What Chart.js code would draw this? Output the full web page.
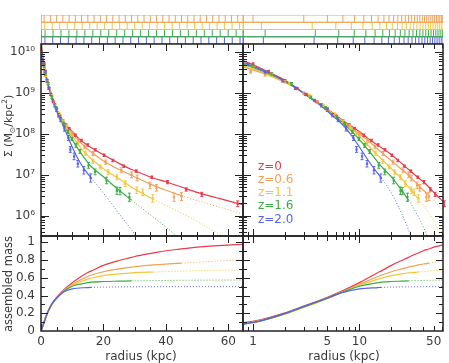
<!DOCTYPE html>
<html><head><meta charset="utf-8">
<script src="https://cdn.jsdelivr.net/npm/chart.js@4"></script>
<style>
html,body{margin:0;padding:0;background:#fff;width:449px;height:363px;overflow:hidden;position:relative;}
canvas{position:absolute;left:0;top:0;}
.t{position:absolute;font-family:'DejaVu Sans',sans-serif;font-size:12px;color:#3a3a3a;white-space:nowrap;line-height:14px;}
.rot{transform:translate(-50%,-50%) rotate(-90deg);}
.ctr{transform:translate(-50%,-50%);}
</style></head><body>
<canvas id="sTL" width="449" height="363"></canvas>
<canvas id="sTR" width="449" height="363"></canvas>
<canvas id="pTL" width="449" height="363"></canvas>
<canvas id="pTR" width="449" height="363"></canvas>
<canvas id="pBL" width="449" height="363"></canvas>
<canvas id="pBR" width="449" height="363"></canvas>
<div class="t rot" style="left:9px;top:126px;font-size:11px;">Σ (M<sub style="font-size:7.5px">⊙</sub>/kpc<sup style="font-size:7.5px">2</sup>)</div>
<div class="t rot" style="left:8px;top:284px;font-size:11.5px;">assembled mass</div>
<div class="t ctr" style="left:141px;top:356px;">radius (kpc)</div>
<div class="t ctr" style="left:344px;top:356px;">radius (kpc)</div>
<div class="t" style="left:258px;top:159px;color:#e63c4b">z=0</div>
<div class="t" style="left:258px;top:172px;color:#f0a05a">z=0.6</div>
<div class="t" style="left:258px;top:185px;color:#f2c63a">z=1.1</div>
<div class="t" style="left:258px;top:198px;color:#3cae46">z=1.6</div>
<div class="t" style="left:258px;top:212px;color:#5864e6">z=2.0</div>
<script>
// ---------- DATA ----------
const zNames = ['z=0','z=0.6','z=1.1','z=1.6','z=2.0'];
const zColors = ['#e63c4b','#f0a05a','#f2c63a','#3cae46','#5864e6'];
const fitEnd = [100, 45, 36, 29, 16];   // radius where solid fit ends (kpc)

// surface density profiles, log10 Sigma, on common radius grid (kpc)
const rGrid    = [0,0.25,0.5,0.8,1.2,1.8,2.5,3.5,4.5,5.5,7,8.5,10,12.5,15,16,20,25,29,30,36,40,45,50,57,65];
const sigmaZ0  = [10.6,10.15,9.96,9.80,9.60,9.38,9.15,8.88,8.70,8.53,8.33,8.18,8.06,7.86,7.72,7.67,7.49,7.28,7.13,7.10,6.92,6.83,6.70,6.57,6.42,6.26];
const sigmaZ06 = [9.78,9.74,9.70,9.64,9.50,9.32,9.13,8.88,8.70,8.52,8.32,8.15,8.01,7.80,7.62,7.56,7.34,7.13,6.99,6.95,6.74,6.62,6.49,6.37,6.21,6.03];
const sigmaZ11 = [9.80,9.76,9.72,9.67,9.52,9.33,9.14,8.88,8.69,8.51,8.30,8.12,7.95,7.68,7.47,7.40,7.15,6.90,6.70,6.65,6.40,6.25,6.06,5.86,5.55,5.22];
const sigmaZ16 = [9.88,9.83,9.78,9.71,9.55,9.35,9.14,8.88,8.68,8.49,8.27,8.06,7.86,7.56,7.30,7.21,6.95,6.62,6.38,6.32,5.96,5.72,5.40,5.10,4.70,4.30];
const sigmaZ20 = [9.95,9.88,9.82,9.75,9.57,9.36,9.14,8.87,8.66,8.46,8.22,7.95,7.68,7.30,7.02,6.93,6.55,6.05,5.65,5.55,5.00,4.60,4.10,3.60,2.90,2.20];

// measured points (radius kpc, log10 Sigma, error dex)
const markR0  = [1.0,1.4,2.0,2.6,3.2,4.0,5.0,6.0,7.0,8.0,9.0,11.0,13.0,15.0,17.4,20.2,23.0,26.5,30.5,35.5,40.5,46.5,51.5,63.0];
const markS0  = [9.72,9.54,9.31,9.12,8.96,8.79,8.62,8.46,8.33,8.23,8.14,7.97,7.84,7.73,7.61,7.48,7.35,7.21,7.09,6.94,6.82,6.64,6.52,6.29];
const markE0  = [0.02,0.02,0.02,0.02,0.02,0.02,0.02,0.02,0.02,0.02,0.02,0.03,0.03,0.03,0.03,0.03,0.03,0.03,0.03,0.03,0.04,0.04,0.05,0.07];
const markR06 = [0.95,1.3,2,3,4,5,6,7,8,10,12,14,16.7,20.7,25.7,29,30.8,34.9,37,42.6,45];
const markS06 = [9.52,9.45,9.28,9.00,8.78,8.60,8.44,8.31,8.21,8.01,7.84,7.69,7.52,7.31,7.11,7.00,6.92,6.74,6.68,6.45,6.47];
const markE06 = [0.03,0.03,0.03,0.03,0.03,0.03,0.03,0.03,0.03,0.04,0.04,0.04,0.05,0.05,0.06,0.07,0.07,0.08,0.08,0.1,0.1];
const markR11 = [1,1.5,2.2,3.4,4.6,5.8,7,8.2,9.4,11.8,14.2,16.6,19,21.5,24.3,27,30.7,32.6,35.8];
const markS11 = [9.62,9.44,9.24,8.94,8.70,8.49,8.31,8.16,8.02,7.76,7.53,7.33,7.19,7.06,6.94,6.78,6.62,6.57,6.42];
const markE11 = [0.03,0.03,0.03,0.03,0.03,0.03,0.03,0.04,0.04,0.04,0.05,0.05,0.05,0.06,0.06,0.07,0.08,0.08,0.09];
const markR16 = [1,1.5,2.3,3.5,4.8,6.1,7.3,8.6,9.9,11.2,12.5,15.2,17.3,21,24.3,25.3,28.3];
const markS16 = [9.66,9.47,9.23,8.90,8.64,8.42,8.24,8.05,7.88,7.72,7.57,7.23,7.07,6.86,6.61,6.60,6.45];
const markE16 = [0.03,0.03,0.03,0.03,0.03,0.03,0.04,0.04,0.04,0.05,0.05,0.07,0.07,0.08,0.09,0.09,0.1];
const markR20 = [0.9,1.3,1.9,2.5,3.1,3.8,4.4,5,5.6,6.3,7.5,8.8,9.4,10.6,11.8,13.7,15.9];
const markS20 = [9.70,9.52,9.30,9.12,8.97,8.82,8.70,8.59,8.46,8.35,8.13,7.90,7.62,7.45,7.27,7.11,6.92];
const markE20 = [0.03,0.03,0.03,0.03,0.03,0.03,0.04,0.04,0.04,0.05,0.06,0.06,0.07,0.08,0.08,0.09,0.1];

// assembled mass fraction
const mGrid   = [0,0.8,1.2,2,3,4,5,7,10,15,16,20,25,29,30,36,40,45,50,57,65];
const massZ0  = [0,0.09,0.13,0.205,0.28,0.335,0.38,0.455,0.545,0.66,0.675,0.74,0.795,0.83,0.84,0.88,0.905,0.925,0.945,0.962,0.978];
const massZ06 = [0,0.08,0.12,0.195,0.27,0.325,0.37,0.445,0.525,0.615,0.628,0.668,0.70,0.72,0.725,0.745,0.755,0.765,0.775,0.79,0.80];
const massZ11 = [0,0.078,0.117,0.19,0.265,0.32,0.365,0.44,0.515,0.585,0.595,0.625,0.645,0.655,0.657,0.665,0.67,0.675,0.68,0.685,0.69];
const massZ16 = [0,0.075,0.115,0.195,0.27,0.325,0.37,0.44,0.505,0.545,0.55,0.558,0.562,0.565,0.566,0.568,0.57,0.572,0.573,0.574,0.575];
const massZ20 = [0,0.075,0.117,0.2,0.277,0.33,0.372,0.435,0.475,0.49,0.492,0.495,0.497,0.498,0.498,0.499,0.5,0.5,0.5,0.5,0.5];

// radial bin edges shown in the top strip (kpc)
const edgesZ06 = [1,3,5,7,9,11,13,15,17,19,21,23,25,27,29,31,33,35,37,39,41,43,45,47,49,51,53,55,57,59,61,63];
const edgesZ11 = [1.2,3.6,6.0,8.4,10.8,13.2,15.6,18.0,20.4,22.8,25.2,27.6,30.0,32.4,34.8,37.2,39.6,42.0,44.4,46.8,49.2,51.6,54.0,56.4,58.8,61.2,63.6];
const edgesZ16 = [1.3,3.85,6.4,8.95,11.5,14.05,16.6,19.15,21.7,24.25,26.8,29.35,31.9,34.45,37.0,39.55,42.1,44.65,47.2,49.75,52.3,54.85,57.4,59.95,62.5];
const edgesZ20 = [1.25,3.75,6.25,8.75,11.25,13.75,16.25,18.75,21.25,23.75,26.25,28.75,31.25,33.75,36.25,38.75,41.25,43.75,46.25,48.75,51.25,53.75,56.25,58.75,61.25,63.75];

// ticks
const linXLabels = [0,20,40,60];
const linXMinor  = [5,10,15,25,30,35,45,50,55];
const logXLabels = [1,5,10,50];
const logXMinor  = [0.9,2,3,4,6,7,8,9,20,30,40,60];
const sigmaDecades = [6,7,8,9,10];
const massLabels = [0,0.2,0.4,0.6,0.8,1];
const massMinor  = [0.1,0.3,0.5,0.7,0.9];

// ---------- LAYOUT ----------
const W = 449, H = 363;
const YAXW = 38, XAXH = 22;
const LIN = {min:0, max:64.7}, LOG = {min:0.805, max:61.1};
const SIG = {min:Math.pow(10,5.50), max:Math.pow(10,10.204)};
const MAS = {min:0, max:1.071};
const rectL = {l:41, r:243}, rectR = {l:243, r:443};
const rowTop = {t:44, b:236}, rowBot = {t:236, b:331}, rowStrip = {t:15, b:44};

const sigmaSets = [sigmaZ0, sigmaZ06, sigmaZ11, sigmaZ16, sigmaZ20];
const massSets  = [massZ0, massZ06, massZ11, massZ16, massZ20];
const markRs = [markR0, markR06, markR11, markR16, markR20];
const markSs = [markS0, markS06, markS11, markS16, markS20];
const markEs = [markE0, markE06, markE11, markE16, markE20];
const edgeSets = [null, edgesZ06, edgesZ11, edgesZ16, edgesZ20];

const SUP = {'0':'⁰','1':'¹','2':'²','3':'³','4':'⁴','5':'⁵','6':'⁶','7':'⁷','8':'⁸','9':'⁹'};
const sup = n => String(n).split('').map(c => SUP[c]).join('');

let logMinor = [];
for (let n = 5; n <= 10; n++) for (let k = 2; k <= 9; k++) logMinor.push(k * Math.pow(10, n));

const framePlugin = {
  id: 'frame',
  afterDatasetsDraw(chart, args, o) {
    if (!o || !o.on) return;
    const {ctx, chartArea: a} = chart;
    const xs = chart.scales.x, ys = chart.scales.y;
    ctx.save();
    chart.data.datasets.forEach(ds => {
      if (!ds.errs) return;
      ctx.strokeStyle = ds.borderColor; ctx.lineWidth = 1;
      ds.logv.forEach((v, i) => {
        const x = xs.getPixelForValue(ds.data[i].x);
        const y1 = ys.getPixelForValue(Math.pow(10, v - ds.errs[i]));
        const y2 = ys.getPixelForValue(Math.pow(10, v + ds.errs[i]));
        ctx.beginPath();
        ctx.moveTo(x, y1); ctx.lineTo(x, y2);
        ctx.moveTo(x - 1.5, y1); ctx.lineTo(x + 1.5, y1);
        ctx.moveTo(x - 1.5, y2); ctx.lineTo(x + 1.5, y2);
        ctx.stroke();
      });
    });
    ctx.strokeStyle = '#222'; ctx.lineWidth = 1;
    const seg = (x1, y1, x2, y2) => { ctx.beginPath(); ctx.moveTo(x1, y1); ctx.lineTo(x2, y2); ctx.stroke(); };
    (o.xt || []).forEach(([v, len]) => {
      const p = Math.round(xs.getPixelForValue(v)) + 0.5;
      if (p < a.left || p > a.right) return;
      seg(p, a.bottom, p, a.bottom - len);
      seg(p, a.top, p, a.top + len);
    });
    (o.yt || []).forEach(([v, len]) => {
      const p = Math.round(ys.getPixelForValue(v)) + 0.5;
      if (p < a.top || p > a.bottom) return;
      seg(a.left, p, a.left + len, p);
      seg(a.right, p, a.right - len, p);
    });
    ctx.lineWidth = 1.5;
    ctx.strokeRect(a.left, a.top, a.right - a.left, a.bottom - a.top);
    ctx.restore();
  }
};

function axis(type, lim, pos, labels, fmt, show) {
  return {
    type, min: lim.min, max: lim.max, position: pos,
    grid: {display: false, drawTicks: false}, border: {display: false},
    afterFit: s => { if (pos === 'bottom') s.height = show ? XAXH : 0; else s.width = show ? YAXW : 0; },
    afterBuildTicks: s => { s.ticks = labels.map(v => ({value: v})); },
    ticks: {display: show, padding: pos === 'bottom' ? 4 : 6, color: '#3a3a3a', autoSkip: false, maxRotation: 0,
      font: {family: 'DejaVu Sans', size: 12}, callback: v => fmt(v)}
  };
}

function makeChart(id, rx, ry, xAx, yAx, datasets, frame, showX, showY) {
  return new Chart(document.getElementById(id), {
    type: 'scatter',
    data: {datasets},
    options: {
      responsive: false, animation: false, devicePixelRatio: 1,
      layout: {padding: {left: rx.l - (showY ? YAXW : 0), right: W - rx.r, top: ry.t, bottom: H - ry.b - (showX ? XAXH : 0)}},
      plugins: {legend: {display: false}, tooltip: {enabled: false}, frame},
      scales: {x: xAx, y: yAx}
    },
    plugins: [framePlugin]
  });
}

function curve(rArr, vArr, zi, isLogX, isSigma) {
  const pts = [];
  rArr.forEach((r, i) => { if (isLogX && r <= 0) return; pts.push({x: r, y: isSigma ? Math.pow(10, vArr[i]) : vArr[i]}); });
  const end = fitEnd[zi];
  return {type: 'line', data: pts, showLine: true, borderColor: zColors[zi], borderWidth: 1.2, pointRadius: 0,
    cubicInterpolationMode: 'monotone', order: 10 - zi,
    segment: {borderDash: c => c.p0.parsed.x >= end - 1e-6 ? [1, 2] : undefined,
              borderWidth: c => c.p0.parsed.x >= end - 1e-6 ? 1 : 1.2}};
}
function marks(zi) {
  return {type: 'scatter', data: markRs[zi].map((r, i) => ({x: r, y: Math.pow(10, markSs[zi][i])})),
    logv: markSs[zi], errs: markEs[zi], borderColor: zColors[zi], backgroundColor: zColors[zi],
    pointStyle: 'rect', pointRadius: 1.6, borderWidth: 0, order: -zi};
}
function strip(zi, row, lim) {
  const pts = [{x: lim.min, y: row}, {x: lim.max, y: row}, {x: lim.max, y: row + 1}, {x: lim.min, y: row + 1}, {x: lim.min, y: row}, {x: lim.min, y: null}];
  edgeSets[zi].forEach(e => { if (e > lim.min && e < lim.max) pts.push({x: e, y: row}, {x: e, y: row + 1}, {x: e, y: null}); });
  return {type: 'line', data: pts, showLine: true, spanGaps: false, borderColor: zColors[zi], borderWidth: 1, pointRadius: 0, tension: 0};
}

const fmtLin = v => String(v);
const fmtSig = v => '10' + sup(Math.round(Math.log10(v)));
const fmtMass = v => (v === 0 ? '0' : v === 1 ? '1' : v.toFixed(1));
const none = () => '';

const xtLin = linXLabels.map(v => [v, 7]).concat(linXMinor.map(v => [v, 4]));
const xtLog = [[1, 7], [10, 7], [5, 5], [50, 5]].concat(logXMinor.map(v => [v, 4]));
const ytSig = sigmaDecades.map(n => [Math.pow(10, n), 8]).concat(logMinor.map(v => [v, 4]));
const ytMass = massLabels.map(v => [v, 7]).concat(massMinor.map(v => [v, 4]));

const Z = [0, 1, 2, 3, 4];

makeChart('sTL', rectL, rowStrip, axis('linear', LIN, 'bottom', [], none, false), axis('linear', {min: 0, max: 4}, 'left', [], none, false),
  [strip(1, 3, LIN), strip(2, 2, LIN), strip(3, 1, LIN), strip(4, 0, LIN)], {on: false}, false, false);
makeChart('sTR', rectR, rowStrip, axis('logarithmic', LOG, 'bottom', [], none, false), axis('linear', {min: 0, max: 4}, 'left', [], none, false),
  [strip(1, 3, LOG), strip(2, 2, LOG), strip(3, 1, LOG), strip(4, 0, LOG)], {on: false}, false, false);

makeChart('pTL', rectL, rowTop, axis('linear', LIN, 'bottom', [], none, false),
  axis('logarithmic', SIG, 'left', sigmaDecades.map(n => Math.pow(10, n)), fmtSig, true),
  Z.map(z => curve(rGrid, sigmaSets[z], z, false, true)).concat(Z.map(z => marks(z))),
  {on: true, xt: xtLin, yt: ytSig}, false, true);
makeChart('pTR', rectR, rowTop, axis('logarithmic', LOG, 'bottom', [], none, false),
  axis('logarithmic', SIG, 'left', [], none, false),
  Z.map(z => curve(rGrid, sigmaSets[z], z, true, true)).concat(Z.map(z => marks(z))),
  {on: true, xt: xtLog, yt: ytSig}, false, false);

makeChart('pBL', rectL, rowBot, axis('linear', LIN, 'bottom', linXLabels, fmtLin, true),
  axis('linear', MAS, 'left', massLabels, fmtMass, true),
  Z.map(z => curve(mGrid, massSets[z], z, false, false)),
  {on: true, xt: xtLin, yt: ytMass}, true, true);
makeChart('pBR', rectR, rowBot, axis('logarithmic', LOG, 'bottom', logXLabels, fmtLin, true),
  axis('linear', MAS, 'left', [], none, false),
  Z.map(z => curve(mGrid, massSets[z], z, true, false)),
  {on: true, xt: xtLog, yt: ytMass}, true, false);
</script>
</body></html>
